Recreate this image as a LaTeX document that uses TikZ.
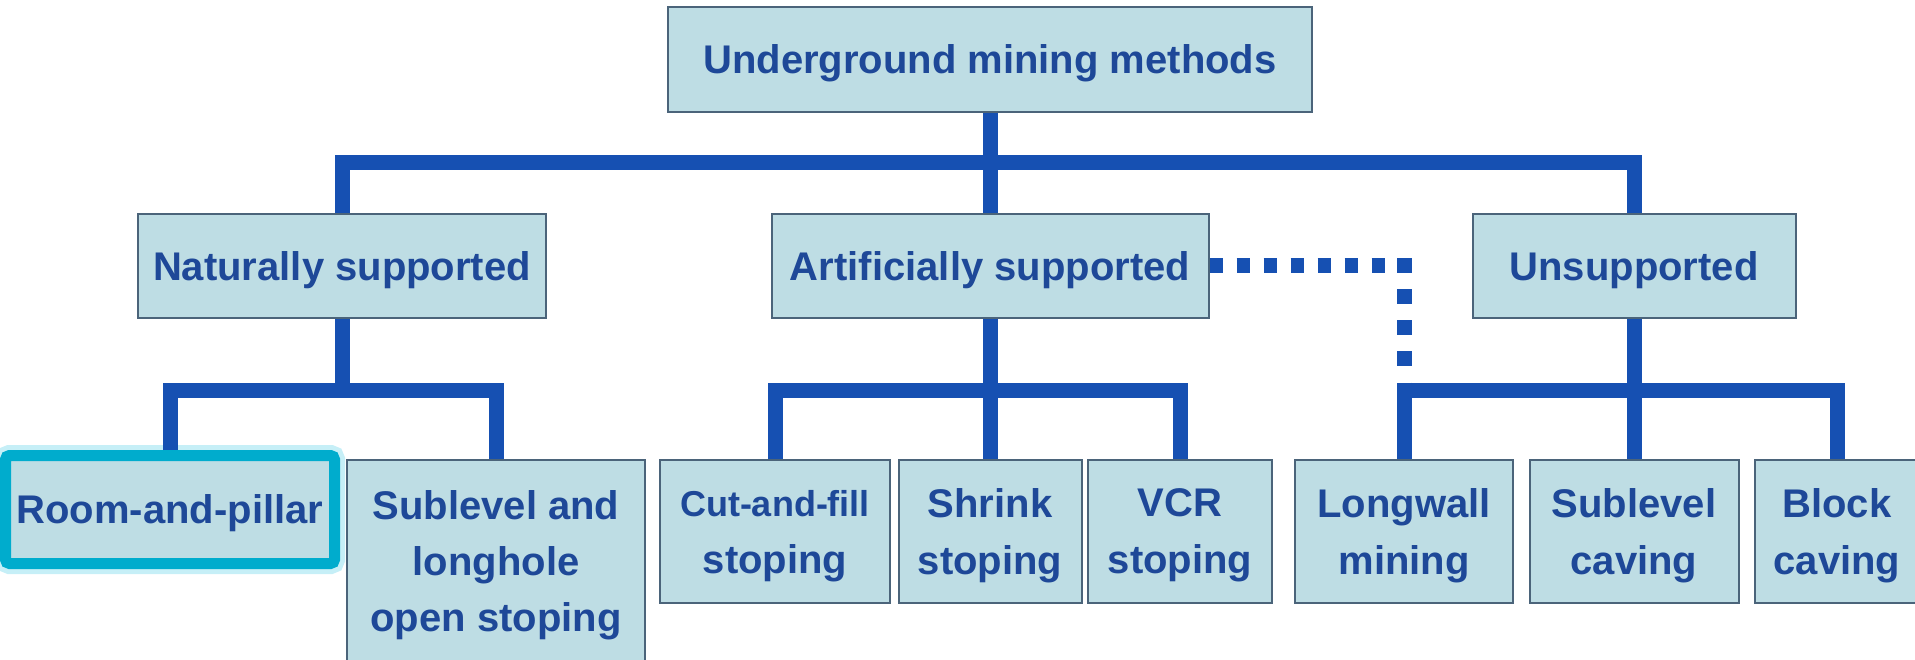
\documentclass[tikz,border=0pt]{standalone}
\usepackage{fontspec}
\setmainfont{Liberation Sans}
\definecolor{boxfill}{RGB}{190,221,228}
\definecolor{boxline}{RGB}{75,100,122}
\definecolor{textblue}{RGB}{30,72,152}
\definecolor{linkblue}{RGB}{22,80,178}
\definecolor{hilite}{RGB}{0,172,205}
\definecolor{glow}{RGB}{160,228,242}
\begin{document}
\begin{tikzpicture}[x=1pt,y=-1pt]
\tikzset{
  method/.style={draw=boxline,line width=2pt,fill=boxfill,text=textblue,align=center,inner sep=0pt,text depth=0pt,
    font=\fontsize{40}{57}\selectfont\bfseries,minimum height=143pt},
  picked/.style={draw=hilite,line width=11pt,rounded corners=4pt,preaction={draw=glow,line width=21pt,opacity=.6}},
  branch/.style={draw=linkblue,line width=15pt},
  dotlink/.style={draw=linkblue,line width=15pt}
}
\useasboundingbox (0,0) rectangle (1915,660);
\clip (0,0) rectangle (1915,660);
\node[method,minimum width=644pt,minimum height=105pt] (methods) at (990,59.5) {Underground mining methods};
\node[method,minimum width=408pt,minimum height=104pt] (natural) at (342,266) {Naturally supported};
\node[method,minimum width=437pt,minimum height=104pt] (artificial) at (990,266) {Artificially supported};
\node[method,minimum width=323pt,minimum height=104pt] (unsupported) at (1634,266) {Unsupported};
\node[method,picked,minimum width=329pt,minimum height=108pt] (room) at (170,509.5) {Room-and-pillar};
\node[method,font=\fontsize{40}{56}\selectfont\bfseries,minimum width=298pt,minimum height=202pt] (longhole) at (496,561) {Sublevel and\\longhole\\open stoping};
\node[method,minimum width=230pt] (cutfill) at (775,531.5) {{\fontsize{36}{57}\selectfont Cut-and-fill}\\stoping};
\node[method,minimum width=183pt] (shrink) at (990,531.5) {Shrink\\stoping};
\node[method,minimum width=184pt] (vcr) at (1180,531.5) {VCR\\stoping};
\node[method,minimum width=218pt] (longwall) at (1404,531.5) {Longwall\\mining};
\node[method,minimum width=209pt] (sublevel) at (1634,531.5) {Sublevel\\caving};
\node[method,minimum width=164pt] (block) at (1837,531.5) {Block\\caving};
\coordinate (bar1) at (0,163);
\coordinate (bar2) at (0,390);
\coordinate (bend) at (longwall.north |- artificial.east);
\draw[branch] (methods.south) -- (artificial.north);
\draw[branch] (natural.north) |- (bar1 -| unsupported.north) -- (unsupported.north);
\draw[branch] (natural.south) -- (natural.south |- bar2);
\draw[branch] (room.north) |- (bar2 -| longhole.north) -- (longhole.north);
\draw[branch] (artificial.south) -- (shrink.north);
\draw[branch] (cutfill.north) |- (bar2 -| vcr.north) -- (vcr.north);
\draw[branch] (unsupported.south) -- (sublevel.north);
\draw[branch] (longwall.north) |- (bar2 -| block.north) -- (block.north);
\draw[dotlink,dash pattern=on 13pt off 14pt] (artificial.east) -- (bend);
\draw[dotlink,dash pattern=on 14.5pt off 16.5pt,shorten <=-7.5pt] (bend) -- (bend |- bar2);
\end{tikzpicture}
\end{document}
